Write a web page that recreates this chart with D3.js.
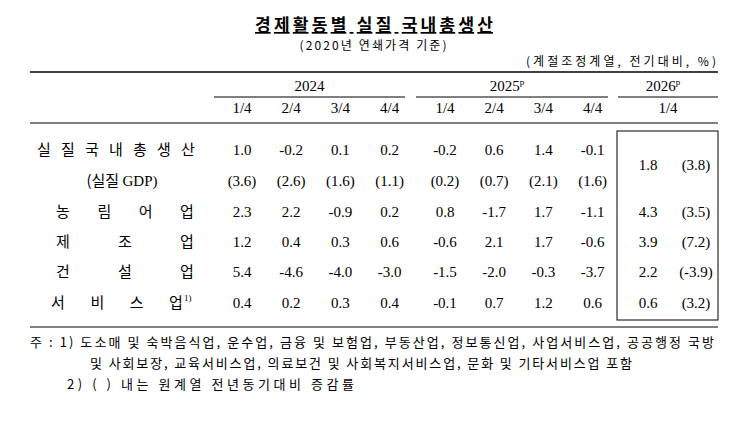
<!DOCTYPE html>
<html><head><meta charset="utf-8">
<script src="https://cdn.jsdelivr.net/npm/d3@7"></script>
<style>body{margin:0;background:#fff}</style>
</head><body><div id="t"></div>
<script>
const years = ['2024', '2025', '2026']
const quarters = [['1/4','2/4','3/4','4/4'], ['1/4','2/4','3/4','4/4'], ['1/4']]
const rowLabels = ['실질국내총생산', '농림어업', '제조업', '건설업', '서비스업']
const gdp = [1.0, -0.2, 0.1, 0.2, -0.2, 0.6, 1.4, -0.1]
const gdpYoy = [3.6, 2.6, 1.6, 1.1, 0.2, 0.7, 2.1, 1.6]
const agri = [2.3, 2.2, -0.9, 0.2, 0.8, -1.7, 1.7, -1.1]
const manu = [1.2, 0.4, 0.3, 0.6, -0.6, 2.1, 1.7, -0.6]
const constr = [5.4, -4.6, -4.0, -3.0, -1.5, -2.0, -0.3, -3.7]
const serv = [0.4, 0.2, 0.3, 0.4, -0.1, 0.7, 1.2, 0.6]
const q2026 = [1.8, 4.3, 3.9, 2.2, 0.6]
const yoy2026 = [3.8, 3.5, 7.2, -3.9, 3.2]
const notes = ['주 : 1) 도소매 및 숙박음식업, 운수업, 금융 및 보험업, 부동산업, 정보통신업, 사업서비스업, 공공행정 국방',
  '및 사회보장, 교육서비스업, 의료보건 및 사회복지서비스업, 문화 및 기타서비스업 포함',
  '2) (   ) 내는 원계열 전년동기대비 증감률']

const W = 754, H = 428
const svg = d3.select('#t').append('svg').attr('width', W).attr('height', H)
const serif = 'Liberation Serif, serif'
const kr = 'Noto Sans CJK KR'

const colX = i => i < 4 ? 242 + i * 49.2 : 445 + (i - 4) * 49.2
const fmt = v => v.toFixed(1)

svg.append('text').attr('x', 374).attr('y', 31).attr('text-anchor', 'middle')
  .attr('font-family', kr).attr('font-weight', 'bold').attr('font-size', 17)
  .attr('textLength', 238).attr('lengthAdjust', 'spacing')
  .attr('text-decoration', 'underline').text('경제활동별 실질 국내총생산')
svg.append('text').attr('x', 373).attr('y', 50).attr('text-anchor', 'middle')
  .attr('font-family', kr).attr('font-size', 12).attr('textLength', 147).attr('lengthAdjust', 'spacing')
  .text('(2020년 연쇄가격 기준)')
svg.append('text').attr('x', 716).attr('y', 66).attr('text-anchor', 'end')
  .attr('font-family', kr).attr('font-size', 12).attr('textLength', 190).attr('lengthAdjust', 'spacing')
  .text('(계절조정계열, 전기대비, %)')

const line = (x1, x2, y, w) => svg.append('line').attr('x1', x1).attr('x2', x2)
  .attr('y1', y).attr('y2', y).attr('stroke', '#000').attr('stroke-width', w)
line(30, 718, 72, 1.5)
line(30, 718, 123, 1)
line(30, 718, 327, 1)

const groups = [{x1: 214, x2: 405}, {x1: 416, x2: 608}, {x1: 618, x2: 718}]
groups.forEach((g, i) => {
  line(g.x1, g.x2, 97, 1)
  const t = svg.append('text').attr('x', (g.x1 + g.x2) / 2 + (i ? -5 : 0)).attr('y', 91)
    .attr('text-anchor', 'middle').attr('font-family', serif).attr('font-size', 15).text(years[i])
  if (i) t.append('tspan').attr('font-size', 9).attr('dy', -6).text('p')
})
quarters.slice(0, 2).flat().forEach((q, i) => {
  svg.append('text').attr('x', colX(i)).attr('y', 113).attr('text-anchor', 'middle')
    .attr('font-family', serif).attr('font-size', 15).text(q)
})
svg.append('text').attr('x', 668).attr('y', 113).attr('text-anchor', 'middle')
  .attr('font-family', serif).attr('font-size', 15).text(quarters[2][0])

svg.append('rect').attr('x', 617).attr('y', 131).attr('width', 101).attr('height', 189)
  .attr('fill', 'none').attr('stroke', '#000').attr('stroke-width', 1)

function spread(txt, x1, x2, y, sup) {
  const ch = txt.split('')
  const s = d3.scaleLinear().domain([0, ch.length - 1]).range([x1, x2])
  ch.forEach((c, i) => svg.append('text').attr('x', s(i)).attr('y', y).attr('text-anchor', 'middle')
    .attr('font-family', kr).attr('font-size', 15).text(c))
  if (sup) svg.append('text').attr('x', x2 + 8).attr('y', y - 7).attr('font-family', serif)
    .attr('font-size', 9).text(sup)
}

const rowY = [155, 217, 247, 277, 308]
spread(rowLabels[0], 44, 188, rowY[0])
svg.append('text').attr('x', 122).attr('y', 186).attr('text-anchor', 'middle')
  .attr('font-family', kr).attr('font-size', 15).text('(실질 ')
  .append('tspan').attr('font-family', serif).text('GDP)')
spread(rowLabels[1], 63, 187, rowY[1])
spread(rowLabels[2], 63, 187, rowY[2])
spread(rowLabels[3], 63, 187, rowY[3])
spread(rowLabels[4], 58, 176, rowY[4], '1)')

const num = (v, cx, y) => svg.append('text').attr('x', cx).attr('y', y).attr('text-anchor', 'middle')
  .attr('font-family', serif).attr('font-size', 15).text(v)

const series = [gdp, agri, manu, constr, serv]
series.forEach((arr, r) => arr.forEach((v, i) => num(fmt(v), colX(i), rowY[r])))
gdpYoy.forEach((v, i) => num('(' + fmt(v) + ')', colX(i), 186))
q2026.forEach((v, r) => {
  const y = r === 0 ? 170 : rowY[r]
  num(fmt(v), 648, y)
  num('(' + fmt(yoy2026[r]) + ')', 696, y)
})

const noteX = [30, 90, 67], noteY = [347, 368, 389], noteLen = [684, 542, 287]
notes.forEach((n, i) => svg.append('text').attr('x', noteX[i]).attr('y', noteY[i])
  .attr('font-family', kr).attr('font-size', 13)
  .attr('textLength', noteLen[i]).attr('lengthAdjust', 'spacing').text(n))
</script></body></html>
